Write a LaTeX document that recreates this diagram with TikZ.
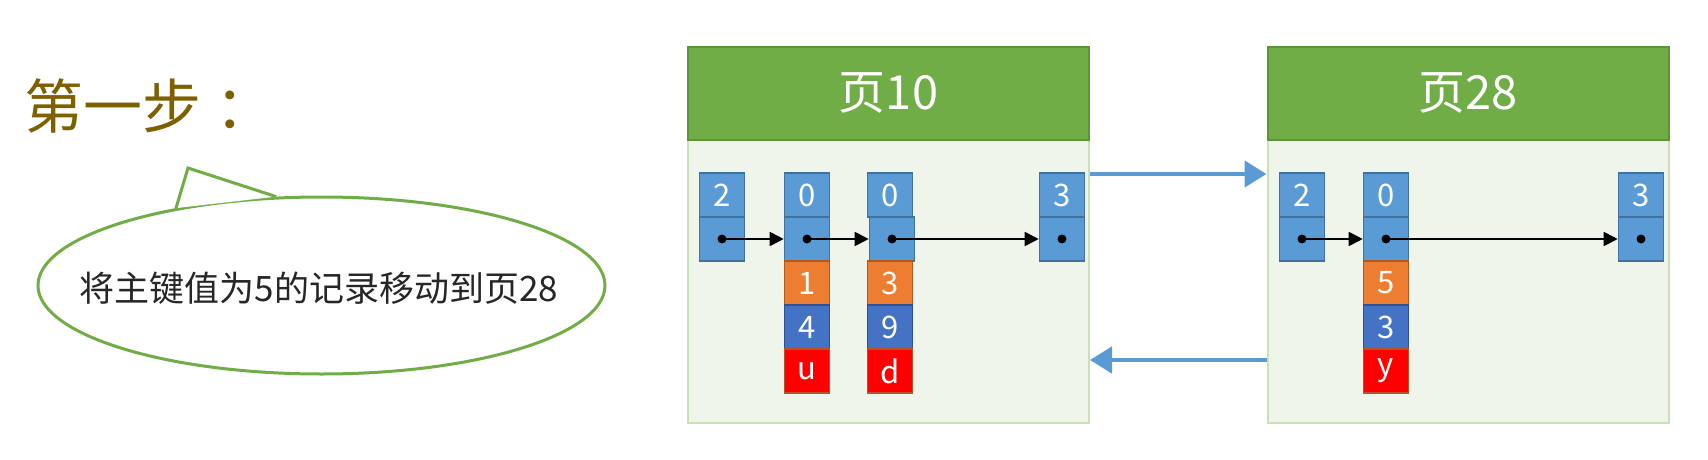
\documentclass[tikz,border=0pt]{standalone}
\usepackage{fontspec}
\setmainfont{Noto Sans CJK SC}
\usetikzlibrary{arrows.meta,shapes.geometric}
\definecolor{hdrfill}{HTML}{70AD47}
\definecolor{hdrline}{HTML}{5E9438}
\definecolor{bodyfill}{HTML}{F0F5EB}
\definecolor{bodyline}{HTML}{C9E0B9}
\definecolor{cellblue}{HTML}{5B9BD5}
\definecolor{cellblueline}{HTML}{41719C}
\definecolor{cellorange}{HTML}{ED7D31}
\definecolor{cellorangeline}{HTML}{AE5A21}
\definecolor{celldark}{HTML}{4472C4}
\definecolor{celldarkline}{HTML}{2F528F}
\definecolor{cellred}{HTML}{FF0000}
\definecolor{cellredline}{HTML}{B5542A}
\definecolor{steptext}{HTML}{7F6000}
\definecolor{bubline}{HTML}{70AD47}
\definecolor{bubtextcol}{HTML}{262626}
\definecolor{linkblue}{HTML}{5B9BD5}
\tikzset{
  pagebody/.style={draw=bodyline, fill=bodyfill, line width=2pt, minimum width=401pt, minimum height=376pt, inner sep=0pt},
  pagehdr/.style={draw=hdrline, fill=hdrfill, line width=2pt, minimum width=401pt, minimum height=93pt, inner sep=0pt, text=white, font=\fontsize{47}{47}\selectfont},
  cellbase/.style={line width=1.6pt, minimum width=45pt, minimum height=44pt, inner sep=0pt, text=white, font=\fontsize{31}{31}\selectfont},
  bluecell/.style={cellbase, draw=cellblueline, fill=cellblue},
  orangecell/.style={cellbase, draw=cellorangeline, fill=cellorange},
  darkcell/.style={cellbase, draw=celldarkline, fill=celldark},
  redcell/.style={cellbase, draw=cellredline, fill=cellred},
  ptr/.style={line width=1.8pt, -{Triangle[length=14pt,width=14pt]}},
  link/.style={draw=linkblue, line width=4.5pt, -{Triangle[length=22pt,width=26pt]}},
  dotmark/.style={fill=black},
}
\begin{document}
\begin{tikzpicture}[x=1pt,y=-1pt]
\useasboundingbox (0,0) rectangle (1708,460);
% left side
\node[anchor=west, text=steptext, font=\fontsize{59}{59}\selectfont, inner sep=0pt] (step1) at (24,106) {第一步\hspace{0.25em}：};
\node[ellipse, draw=bubline, fill=white, line width=3pt, minimum width=567pt, minimum height=177pt, inner sep=0pt] (bub) at (321.5,285.5) {};
\node[font=\fontsize{35}{35}\selectfont, text=bubtextcol, inner sep=0pt] (bubtext) at (319,288) {将主键值为5的记录移动到页28};
\coordinate (tip) at (188,168);
\fill[white] (bub.152) -- (tip) -- (bub.117) -- cycle;
\draw[bubline, line width=3pt, line join=miter] (bub.152) -- (tip) -- (bub.117);
% pages
\node[pagebody] (p10) at (888.5,235) {};
\node[pagehdr] (h10) at (888.5,93.5) {页10};
\node[pagebody] (p28) at (1468,235) {};
\node[pagehdr] (h28) at (1468,93.5) {页28};
% page 10 records
\node[bluecell] (a1k) at (722,195) {2};
\node[bluecell] (a1p) at (722,239) {};
\node[bluecell] (a2k) at (807,195) {0};
\node[bluecell] (a2p) at (807,239) {};
\node[orangecell] (a2a) at (807,283) {1};
\node[darkcell] (a2b) at (807,327) {4};
\node[redcell] (a2c) at (807,371) {u};
\node[bluecell] (a3k) at (890,195) {0};
\node[bluecell] (a3p) at (892,239) {};
\node[orangecell] (a3a) at (890,283) {3};
\node[darkcell] (a3b) at (890,327) {9};
\node[redcell] (a3c) at (890,371) {d};
\node[bluecell] (a4k) at (1062,195) {3};
\node[bluecell] (a4p) at (1062,239) {};
% page 28 records
\node[bluecell] (b1k) at (1302,195) {2};
\node[bluecell] (b1p) at (1302,239) {};
\node[bluecell] (b2k) at (1386,195) {0};
\node[bluecell] (b2p) at (1386,239) {};
\node[orangecell] (b2a) at (1386,283) {5};
\node[darkcell] (b2b) at (1386,327) {3};
\node[redcell] (b2c) at (1386,371) {y};
\node[bluecell] (b3k) at (1641,195) {3};
\node[bluecell] (b3p) at (1641,239) {};
% record pointers
\draw[ptr] (a1p.center) -- (a2p.west);
\draw[ptr] (a2p.center) -- (a3p.west);
\draw[ptr] (a3p.center) -- (a4p.west);
\draw[ptr] (b1p.center) -- (b2p.west);
\draw[ptr] (b2p.center) -- (b3p.west);
\foreach \n in {a1p,a2p,a3p,a4p,b1p,b2p,b3p} {\fill[dotmark] (\n.center) circle (4.5);}
% page links
\draw[link] ([yshift=61pt]p10.east) -- ([yshift=61pt]p28.west);
\draw[link] ([yshift=-125pt]p28.west) -- ([yshift=-125pt]p10.east);
\end{tikzpicture}
\end{document}
